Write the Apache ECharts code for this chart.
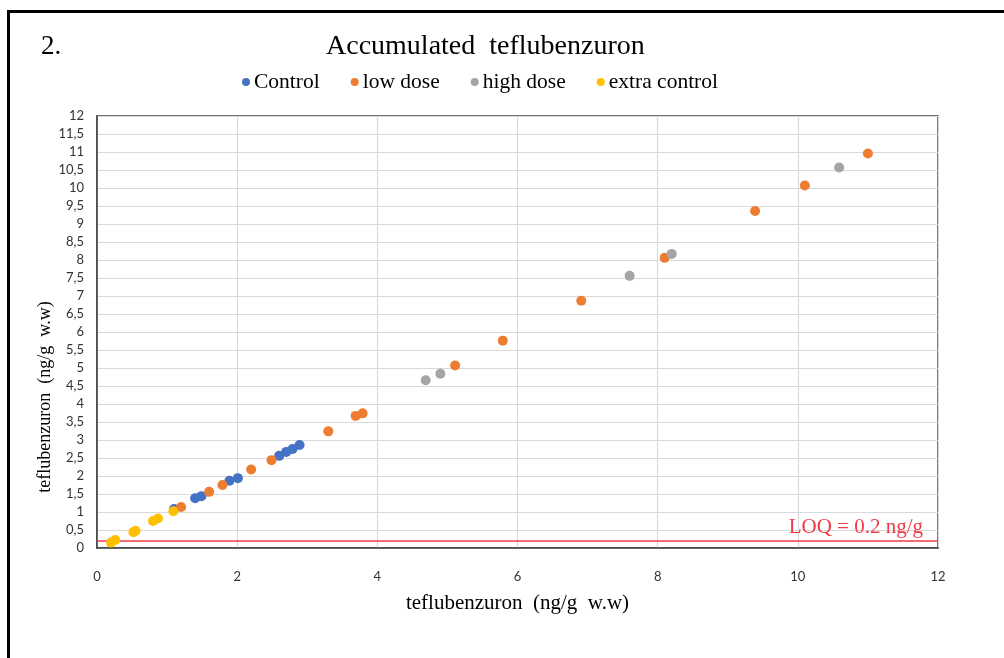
<!DOCTYPE html>
<html>
<head>
<meta charset="utf-8">
<title>Accumulated teflubenzuron</title>
<script src="https://cdn.jsdelivr.net/npm/echarts@6/dist/echarts.min.js"></script>
<style>
  html, body { margin: 0; padding: 0; background: #fff; }
  #chart { width: 1004px; height: 658px; }
</style>
</head>
<body>
<div id="chart"></div>
<script>
// values: [x, y]
const control = [
  [1.10, 1.08], [1.40, 1.38], [1.49, 1.44], [1.89, 1.87], [2.01, 1.94],
  [2.60, 2.56], [2.70, 2.67], [2.79, 2.75], [2.89, 2.86]
];
const lowDose = [
  [1.20, 1.14], [1.60, 1.56], [1.79, 1.75], [2.20, 2.18], [2.49, 2.44],
  [3.30, 3.24], [3.69, 3.67], [3.79, 3.74], [5.11, 5.07], [5.79, 5.76],
  [6.91, 6.87], [8.10, 8.06], [9.39, 9.36], [10.10, 10.07], [11.00, 10.96]
];
const highDose = [
  [4.69, 4.66], [4.90, 4.84], [7.60, 7.56], [8.20, 8.17], [10.59, 10.57]
];
const extraControl = [
  [0.20, 0.15], [0.26, 0.22], [0.52, 0.44], [0.55, 0.48],
  [0.80, 0.75], [0.87, 0.82], [1.09, 1.02]
];
const seriesNames = ['Control', 'low dose', 'high dose', 'extra control'];
const seriesColors = ['#4472C4', '#ED7D31', '#A5A5A5', '#FFC000'];
const loq = 0.2;

const serif = '"Liberation Serif", "Times New Roman", serif';
const tickFont = 'Lato, "Open Sans", sans-serif';

const chart = echarts.init(document.getElementById('chart'), null, { renderer: 'canvas' });

const dataSets = [control, lowDose, highDose, extraControl];

const option = {
  animation: false,
  backgroundColor: '#fff',
  title: [
    {
      text: '2.',
      left: 36,
      top: 28,
      textStyle: { fontFamily: serif, fontSize: 27, fontWeight: 'normal', color: '#000' }
    },
    {
      text: 'Accumulated  teflubenzuron',
      left: 321,
      top: 28,
      textStyle: { fontFamily: serif, fontSize: 28, fontWeight: 'normal', color: '#000' }
    }
  ],
  legend: {
    data: seriesNames,
    left: 237,
    top: 66,
    icon: 'circle',
    itemWidth: 8,
    itemHeight: 8,
    itemGap: 31,
    textStyle: { fontFamily: serif, fontSize: 21.5, color: '#000', padding: [0, 0, 0, -1] }
  },
  grid: {
    left: 97,
    right: 66,
    top: 116,
    bottom: 110,
    show: true,
    borderColor: '#404040',
    borderWidth: 1.5
  },
  xAxis: {
    type: 'value',
    min: 0,
    max: 12,
    interval: 2,
    name: 'teflubenzuron  (ng/g  w.w)',
    nameLocation: 'middle',
    nameGap: 45,
    nameTextStyle: { fontFamily: serif, fontSize: 21, color: '#000' },
    axisLine: { show: true, lineStyle: { color: '#404040', width: 1.5 } },
    axisTick: { show: false },
    axisLabel: { margin: 22, fontFamily: tickFont, fontSize: 13, color: '#333' },
    splitLine: { show: true, lineStyle: { color: '#D9D9D9', width: 1.2 } }
  },
  yAxis: {
    type: 'value',
    min: 0,
    max: 12,
    interval: 0.5,
    axisLine: { show: true, lineStyle: { color: '#404040', width: 1.5 } },
    axisTick: { show: false },
    axisLabel: {
      margin: 13,
      fontFamily: tickFont,
      fontSize: 13,
      color: '#333',
      formatter: v => String(v).replace('.', ',')
    },
    splitLine: { show: true, lineStyle: { color: '#D9D9D9', width: 1.2 } }
  },
  graphic: [
    {
      type: 'text',
      x: 45,
      y: 397,
      rotation: Math.PI / 2,
      style: {
        text: 'teflubenzuron  (ng/g  w.w)',
        font: '18px ' + serif,
        fill: '#000',
        align: 'center',
        verticalAlign: 'middle'
      }
    },
    {
      type: 'rect',
      z: 100,
      shape: { x: 8.5, y: 11.5, width: 1100, height: 700 },
      style: { fill: null, stroke: '#000', lineWidth: 3 }
    }
  ],
  series: dataSets.map((d, i) => ({
    name: seriesNames[i],
    type: 'scatter',
    data: d,
    symbolSize: 10,
    itemStyle: { color: seriesColors[i], opacity: 1 },
    z: 3 + i,
    markLine: i === 0 ? {
      silent: true,
      symbol: 'none',
      data: [{ yAxis: loq }],
      lineStyle: { color: '#EF3B45', width: 1.5, type: 'solid' },
      label: {
        show: true,
        position: 'insideEndTop',
        formatter: 'LOQ = 0.2 ng/g',
        fontFamily: serif,
        fontSize: 21,
        color: '#EF3B45',
        distance: [15, 3]
      }
    } : undefined
  }))
};

chart.setOption(option);
</script>
</body>
</html>
